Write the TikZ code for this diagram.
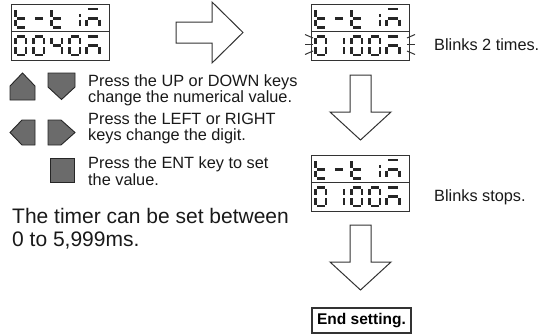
\documentclass[tikz,border=0pt]{standalone}
\usepackage{fontspec}
\setmainfont{Liberation Sans}
\def\sgW{10.5}\def\sgH{18.5}\def\sgG{1.4}
\def\segA#1#2{\draw[segline] ({#1+\sgG},{#2}) -- ({#1+\sgW-\sgG},{#2});}
\def\segB#1#2{\draw[segline] ({#1+\sgW},{#2+\sgG}) -- ({#1+\sgW},{#2+\sgH/2-\sgG});}
\def\segC#1#2{\draw[segline] ({#1+\sgW},{#2+\sgH/2+\sgG}) -- ({#1+\sgW},{#2+\sgH-\sgG});}
\def\segD#1#2{\draw[segline] ({#1+\sgG},{#2+\sgH}) -- ({#1+\sgW-\sgG},{#2+\sgH});}
\def\segE#1#2{\draw[segline] ({#1},{#2+\sgH/2+\sgG}) -- ({#1},{#2+\sgH-\sgG});}
\def\segF#1#2{\draw[segline] ({#1},{#2+\sgG}) -- ({#1},{#2+\sgH/2-\sgG});}
\def\segG#1#2{\draw[segline] ({#1+\sgG},{#2+\sgH/2}) -- ({#1+\sgW-\sgG},{#2+\sgH/2});}
\def\segI#1#2{\draw[segline] ({#1+\sgW},{#2+\sgH/2-4.5}) -- ({#1+\sgW},{#2+\sgH/2-1.5});}
\newcommand\segchar[3]{\foreach \ss in {#3}{\csname seg\ss\endcsname{#1}{#2}}}
% top row "t-tim" for a display at left #1, top #2
\newcommand\toprow[2]{%
  \segchar{#1+4.5}{#2+5}{F,E,D,G}
  \segchar{#1+22.5}{#2+5}{G}
  \segchar{#1+40.5}{#2+5}{F,E,D,G}
  \segchar{#1+58.5}{#2+5}{I,C}
  {\def\sgW{13}\segchar{#1+75.5}{#2+5}{A,G,E,C}}
}
\newcommand\unitm[2]{{\def\sgW{13}\segchar{#1+75.5}{#2+32.5}{A,G,E,C}}}
\tikzset{
  segline/.style={line width=2.7pt, line cap=butt, draw=black!85},
  dispbox/.style={draw=black!80, line width=1.4pt, minimum width=98pt, minimum height=55.5pt, inner sep=0pt, anchor=north west},
  keyshape/.style={fill=black!58, draw=black!85, line width=0.9pt, line join=miter},
  bigarrow/.style={draw=black!80, line width=1pt, fill=white, line join=miter},
  blink/.style={draw=black!80, line width=1pt},
  txt/.style={anchor=base west, inner sep=0pt, font=\fontsize{16.3}{16}\selectfont, text=black!90},
  bigtxt/.style={anchor=base west, inner sep=0pt, font=\fontsize{21}{21}\selectfont, text=black!90},
  endbox/.style={draw=black!80, line width=1.4pt, minimum width=99pt, minimum height=25pt, inner sep=0pt, font=\fontsize{15.5}{16}\selectfont\bfseries},
}
\begin{document}
\begin{tikzpicture}[x=1pt,y=-1pt]
\useasboundingbox (0,0) rectangle (538,335);
% displays
\node[dispbox] (d1) at (11,4) {};
\draw[draw=black!80, line width=1.4pt] (11,31.5) -- (109,31.5);
\toprow{11}{4}
\segchar{15.5}{36.5}{A,B,C,D,E,F}
\segchar{33.5}{36.5}{A,B,C,D,E,F}
\segchar{51.5}{36.5}{F,G,B,C}
\segchar{69.5}{36.5}{A,B,C,D,E,F}
\unitm{11}{4}

\node[dispbox] (d2) at (311,4) {};
\draw[draw=black!80, line width=1.4pt] (311,31.5) -- (409,31.5);
\toprow{311}{4}
\segchar{315.5}{36.5}{A,B,C,D,E,F}
\segchar{333.5}{36.5}{B,C}
\segchar{351.5}{36.5}{A,B,C,D,E,F}
\segchar{369.5}{36.5}{A,B,C,D,E,F}
\unitm{311}{4}
\draw[blink] (313,38) -- (305,34.5);
\draw[blink] (313,44.5) -- (305,44.5);
\draw[blink] (313,51) -- (305,54.5);
\draw[blink] (407,38) -- (415,34.5);
\draw[blink] (407,44.5) -- (415,44.5);
\draw[blink] (407,51) -- (415,54.5);

\node[dispbox] (d3) at (311,155) {};
\draw[draw=black!80, line width=1.4pt] (311,182.5) -- (409,182.5);
\toprow{311}{155}
\segchar{315.5}{187.5}{A,B,C,D,E,F}
\segchar{333.5}{187.5}{B,C}
\segchar{351.5}{187.5}{A,B,C,D,E,F}
\segchar{369.5}{187.5}{A,B,C,D,E,F}
\unitm{311}{155}

% arrows
\draw[bigarrow] (176,22) -- (212,22) -- (212,2) -- (243,32.5) -- (212,63) -- (212,43) -- (176,43) -- cycle;
\draw[bigarrow] (350,75) -- (371,75) -- (371,112) -- (391,112) -- (360.5,140) -- (330,112) -- (350,112) -- cycle;
\draw[bigarrow] (350,225) -- (371,225) -- (371,262) -- (391,262) -- (360.5,290) -- (330,262) -- (350,262) -- cycle;

\node[endbox] (end) at (361.5,320.5) {End setting.};

% keys
\draw[keyshape] (10,100) -- (10,86) -- (22.5,73) -- (35,86) -- (35,100) -- cycle;
\draw[keyshape] (48,73) -- (75,73) -- (75,87) -- (61.5,99.5) -- (48,87) -- cycle;
\draw[keyshape] (35,120) -- (22,120) -- (10,132.5) -- (22,145) -- (35,145) -- cycle;
\draw[keyshape] (48,120) -- (61,120) -- (75,132.5) -- (61,145) -- (48,145) -- cycle;
\draw[keyshape] (50,158) rectangle (74,182);

% texts
\node[txt] (t1) at (88,86.5) {Press the UP or DOWN keys};
\node[txt] (t2) at (88,102.5) {change the numerical value.};
\node[txt] (t3) at (88,124.5) {Press the LEFT or RIGHT};
\node[txt] (t4) at (88,140) {keys change the digit.};
\node[txt] (t5) at (88,168) {Press the ENT key to set};
\node[txt] (t6) at (88,185.5) {the value.};
\node[bigtxt] (b1) at (12,223) {The timer can be set between};
\node[bigtxt] (b2) at (12,246) {0 to 5,999ms.};
\node[txt] (l1) at (434,50) {Blinks 2 times.};
\node[txt] (l2) at (434,201) {Blinks stops.};
\end{tikzpicture}
\end{document}
